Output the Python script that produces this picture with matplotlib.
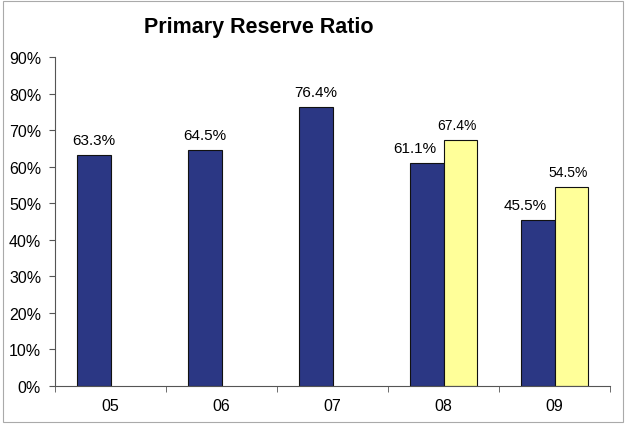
import numpy as np
import matplotlib
matplotlib.use("Agg")
import matplotlib.pyplot as plt
from matplotlib.patches import Rectangle

years = ["05", "06", "07", "08", "09"]
actual = [63.3, 64.5, 76.4, 61.1, 45.5]
second = [np.nan, np.nan, np.nan, 67.4, 54.5]

plt.rcParams['font.family'] = ['Liberation Sans', 'DejaVu Sans']

fig = plt.figure(figsize=(6.26, 4.27), dpi=100)
ax = fig.add_axes([55/626, 1-387/427, 555/626, 329/427])

x = np.arange(len(years))
w = 0.3
ax.bar(x - w/2, actual, w, color="#2b3784", edgecolor="#111111", linewidth=0.8)
ax.bar(x + w/2, second, w, color="#ffff99", edgecolor="#111111", linewidth=0.8)

for xi, v, s in zip(x, actual, second):
    # nudge left when a second bar sits next to it
    dx = -0.11 if not np.isnan(s) else 0
    ax.text(xi - w/2 + dx, v + 2.2, f"{v:.1f}%", ha="center", va="bottom", fontsize=11)
for xi, v in zip(x, second):
    if not np.isnan(v):
        ax.text(xi + w/2 - 0.03, v + 2.2, f"{v:.1f}%", ha="center", va="bottom", fontsize=10)

ax.set_xlim(-0.5, len(years) - 0.5)
ax.set_ylim(0, 90)
ax.set_yticks(range(0, 91, 10))
ax.set_yticklabels([f"{t}%" for t in range(0, 91, 10)], fontsize=11.5)
ax.set_xticks(x)
ax.set_xticklabels(years, fontsize=11.5)
ax.tick_params(axis="x", length=0, pad=9)
ax.set_xticks(np.arange(-0.5, len(years)), minor=True)
ax.tick_params(axis="x", which="minor", length=4, color="#555555", direction="out")
ax.tick_params(axis="y", length=4, color="#555555", direction="out", pad=6)

for s in ["top", "right"]:
    ax.spines[s].set_visible(False)
for s in ["left", "bottom"]:
    ax.spines[s].set_color("#555555")
    ax.spines[s].set_linewidth(0.8)

fig.text(259/626, 1-28/427, "Primary Reserve Ratio", ha="center", va="center",
         fontsize=15.5, fontweight="bold")

fig.patches.append(Rectangle((0.004, 0.01), 0.992, 0.985, transform=fig.transFigure,
                             fill=False, edgecolor="#aaaaaa", linewidth=0.8))

fig.savefig("out.png", dpi=100)
